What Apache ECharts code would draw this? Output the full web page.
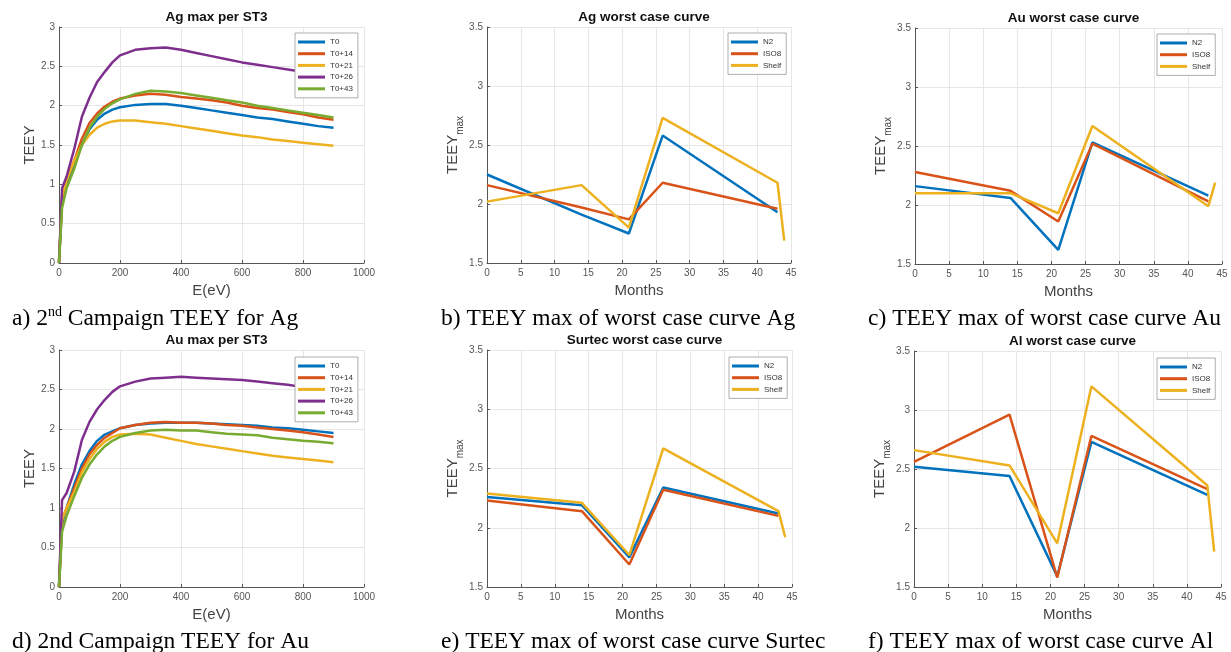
<!DOCTYPE html>
<html>
<head>
<meta charset="utf-8">
<script src="https://cdn.jsdelivr.net/npm/echarts@6/dist/echarts.min.js"></script>
<style>
html,body{margin:0;padding:0;background:#fff;}
#c{width:1231px;height:652px;}
</style>
</head>
<body>
<div id="c"></div>
<script>
// ---------- DATA ----------
const energy = [0, 10, 25, 50, 75, 100, 125, 150, 175, 200, 250, 300, 350, 400, 450, 500, 550, 600, 650, 700, 750, 800, 850, 900];
const energyTicks = [0, 200, 400, 600, 800, 1000];

// Ag max per ST3
const agT0   = [0, 0.80, 1.00, 1.25, 1.50, 1.70, 1.82, 1.90, 1.95, 1.98, 2.01, 2.02, 2.02, 2.00, 1.97, 1.94, 1.91, 1.88, 1.85, 1.83, 1.80, 1.77, 1.74, 1.72];
const agT14  = [0, 0.80, 1.05, 1.30, 1.58, 1.78, 1.90, 1.99, 2.05, 2.09, 2.13, 2.15, 2.14, 2.11, 2.09, 2.07, 2.04, 2.00, 1.97, 1.95, 1.92, 1.89, 1.85, 1.82];
const agT21  = [0, 0.85, 1.05, 1.30, 1.50, 1.63, 1.72, 1.77, 1.80, 1.81, 1.81, 1.79, 1.77, 1.74, 1.71, 1.68, 1.65, 1.62, 1.60, 1.57, 1.55, 1.53, 1.51, 1.49];
const agT26  = [0, 0.95, 1.10, 1.45, 1.86, 2.10, 2.30, 2.43, 2.55, 2.64, 2.71, 2.73, 2.74, 2.71, 2.67, 2.63, 2.59, 2.55, 2.52, 2.49, 2.46, 2.43, 2.40, 2.38];
const agT43  = [0, 0.70, 0.95, 1.20, 1.50, 1.72, 1.86, 1.96, 2.03, 2.08, 2.15, 2.19, 2.18, 2.16, 2.13, 2.10, 2.07, 2.04, 2.00, 1.97, 1.94, 1.91, 1.88, 1.85];

// Au max per ST3
const auT0   = [0, 0.80, 1.00, 1.30, 1.55, 1.72, 1.85, 1.93, 1.97, 2.01, 2.05, 2.07, 2.08, 2.08, 2.08, 2.07, 2.06, 2.05, 2.04, 2.02, 2.01, 1.99, 1.97, 1.95];
const auT14  = [0, 0.85, 1.00, 1.25, 1.50, 1.68, 1.80, 1.89, 1.95, 2.01, 2.05, 2.08, 2.09, 2.08, 2.08, 2.07, 2.05, 2.04, 2.02, 2.00, 1.98, 1.96, 1.93, 1.90];
const auT21  = [0, 0.85, 1.00, 1.20, 1.45, 1.62, 1.75, 1.84, 1.90, 1.93, 1.94, 1.93, 1.89, 1.85, 1.81, 1.78, 1.75, 1.72, 1.69, 1.66, 1.64, 1.62, 1.60, 1.58];
const auT26  = [0, 1.10, 1.19, 1.46, 1.86, 2.09, 2.25, 2.37, 2.47, 2.54, 2.60, 2.64, 2.65, 2.66, 2.65, 2.64, 2.63, 2.62, 2.60, 2.58, 2.56, 2.53, 2.50, 2.48];
const auT43  = [0, 0.70, 0.90, 1.15, 1.38, 1.55, 1.68, 1.78, 1.85, 1.90, 1.95, 1.98, 1.99, 1.98, 1.98, 1.96, 1.94, 1.93, 1.92, 1.89, 1.87, 1.85, 1.84, 1.82];

const campaignNames = ['T0', 'T0+14', 'T0+21', 'T0+26', 'T0+43'];

// Worst case curves (months)
const months = [0, 14, 21, 26, 43, 44];
const monthTicks = [0, 5, 10, 15, 20, 25, 30, 35, 40, 45];
const worstNames = ['N2', 'ISO8', 'Shelf'];

const agN2    = [2.25, 1.91, 1.75, 2.58, 1.93];
const agISO8  = [2.16, 1.97, 1.87, 2.18, 1.96];
const agShelf = [2.02, 2.16, 1.80, 2.73, 2.18, 1.69];

const auN2    = [2.16, 2.06, 1.62, 2.53, 2.08];
const auISO8  = [2.28, 2.12, 1.86, 2.52, 2.03];
const auShelf = [2.10, 2.10, 1.93, 2.67, 1.99, 2.19];

const suN2    = [2.26, 2.19, 1.75, 2.34, 2.12];
const suISO8  = [2.23, 2.14, 1.69, 2.32, 2.10];
const suShelf = [2.29, 2.21, 1.77, 2.67, 2.14, 1.92];

const alN2    = [2.52, 2.44, 1.59, 2.73, 2.28];
const alISO8  = [2.56, 2.96, 1.58, 2.78, 2.33];
const alShelf = [2.66, 2.53, 1.87, 3.20, 2.36, 1.80];

const plotTitles = ['Ag max per ST3', 'Ag worst case curve', 'Au worst case curve', 'Au max per ST3', 'Surtec worst case curve', 'Al worst case curve'];
const captions = [
  '{n|a) 2}{s|nd}{n| Campaign TEEY for Ag}',
  '{n|b) TEEY max of worst case curve Ag}',
  '{n|c) TEEY max of worst case curve Au}',
  '{n|d) 2nd Campaign TEEY for Au}',
  '{n|e) TEEY max of worst case curve Surtec}',
  '{n|f) TEEY max of worst case curve Al}'
];

// ---------- LAYOUT ----------
const colors = ['#0072BD', '#D95319', '#EDB120', '#7E2F8E', '#77AC30'];
const grids = [
  {left: 59,  top: 27,  width: 305, height: 236},
  {left: 487, top: 27,  width: 304, height: 236},
  {left: 915, top: 28,  width: 307, height: 236},
  {left: 59,  top: 350, width: 305, height: 237},
  {left: 487, top: 350, width: 305, height: 237},
  {left: 914, top: 351, width: 307, height: 236}
];
const legendPos = [
  {left: 295, top: 33}, {left: 728, top: 33}, {left: 1157, top: 34},
  {left: 295, top: 357}, {left: 729, top: 357}, {left: 1157, top: 358}
];
const captionPos = [
  {left: 7, top: 300}, {left: 436, top: 300}, {left: 863, top: 300},
  {left: 7, top: 623}, {left: 436, top: 623}, {left: 863, top: 623}
];
const isEnergy = [true, false, false, true, false, false];

const axisLabelStyle = {fontSize: 10, color: '#555', fontFamily: 'Liberation Sans, Arial'};
const nameStyle = {fontSize: 15, color: '#444', fontFamily: 'Liberation Sans, Arial'};

const xAxes = [], yAxes = [], titles = [], legends = [], series = [];

grids.forEach((g, i) => {
  const e = isEnergy[i];
  xAxes.push({
    type: 'value', gridIndex: i,
    min: 0, max: e ? 1000 : 45, interval: e ? 200 : 5,
    name: e ? 'E(eV)' : 'Months', nameLocation: 'middle', nameGap: 20,
    nameTextStyle: nameStyle,
    axisLine: {show: true, onZero: false, lineStyle: {color: '#555', width: 1}},
    axisTick: {show: true, inside: true, length: 3, lineStyle: {color: '#555'}},
    axisLabel: Object.assign({margin: 5, formatter: v => String(v)}, axisLabelStyle),
    splitLine: {show: true, lineStyle: {color: '#e6e6e6', width: 1}}
  });
  yAxes.push({
    type: 'value', gridIndex: i,
    min: e ? 0 : 1.5, max: e ? 3 : 3.5, interval: 0.5,
    name: e ? 'TEEY' : '{a|TEEY}{b|max}', nameLocation: 'middle', nameGap: e ? 18 : 22,
    nameRotate: 90,
    nameTextStyle: e ? nameStyle : Object.assign({}, nameStyle, {
      rich: {
        a: {fontSize: 15, color: '#444', lineHeight: 24, verticalAlign: 'middle'},
        b: {fontSize: 10, color: '#444', lineHeight: 10, verticalAlign: 'bottom'}
      }
    }),
    axisLine: {show: true, onZero: false, lineStyle: {color: '#555', width: 1}},
    axisTick: {show: true, inside: true, length: 3, lineStyle: {color: '#555'}},
    axisLabel: Object.assign({margin: 4, formatter: v => String(v)}, axisLabelStyle),
    splitLine: {show: true, lineStyle: {color: '#e6e6e6', width: 1}}
  });
  titles.push({
    text: plotTitles[i], left: g.left + g.width / 2, top: g.top - 22, textAlign: 'center',
    textStyle: {fontSize: 13.5, fontWeight: 'bold', color: '#111', fontFamily: 'Liberation Sans, Arial'}
  });
  titles.push({
    text: captions[i], left: captionPos[i].left, top: captionPos[i].top,
    textStyle: {
      fontWeight: 'normal',
      rich: {
        n: {fontSize: 23.5, fontWeight: 'normal', fontFamily: 'Liberation Serif, Times New Roman, serif', color: '#000', lineHeight: 28, verticalAlign: 'middle'},
        s: {fontSize: 14, fontWeight: 'normal', fontFamily: 'Liberation Serif, Times New Roman, serif', color: '#000', lineHeight: 14, verticalAlign: 'top'}
      }
    }
  });
  legends.push({
    orient: 'vertical', left: legendPos[i].left, top: legendPos[i].top,
    data: e ? campaignNames : worstNames,
    icon: 'rect', itemWidth: 27, itemHeight: 3, itemGap: 1.7,
    padding: [4, 5, 4, 3],
    backgroundColor: '#fff', borderColor: '#999', borderWidth: 0.8,
    textStyle: {fontSize: 8, color: '#333', lineHeight: 10, fontFamily: 'Liberation Sans, Arial'},
    selectedMode: false
  });
});

function lineSeries(name, gi, xs, ys, color) {
  return {
    type: 'line', name: name, xAxisIndex: gi, yAxisIndex: gi,
    data: ys.map((v, k) => [xs[k], v]),
    symbol: 'none', showSymbol: false, smooth: false,
    lineStyle: {width: 2.5, color: color}, itemStyle: {color: color},
    emphasis: {disabled: true}, animation: false
  };
}

[agT0, agT14, agT21, agT26, agT43].forEach((d, k) => series.push(lineSeries(campaignNames[k], 0, energy, d, colors[k])));
[auT0, auT14, auT21, auT26, auT43].forEach((d, k) => series.push(lineSeries(campaignNames[k], 3, energy, d, colors[k])));
[[agN2, agISO8, agShelf, 1], [auN2, auISO8, auShelf, 2], [suN2, suISO8, suShelf, 4], [alN2, alISO8, alShelf, 5]].forEach(set => {
  for (let k = 0; k < 3; k++) series.push(lineSeries(worstNames[k], set[3], months, set[k], colors[k]));
});

const chart = echarts.init(document.getElementById('c'), null, {renderer: 'canvas'});
chart.setOption({
  backgroundColor: '#fff',
  animation: false,
  title: titles,
  legend: legends,
  grid: grids,
  xAxis: xAxes,
  yAxis: yAxes,
  series: series
});
</script>
</body>
</html>
